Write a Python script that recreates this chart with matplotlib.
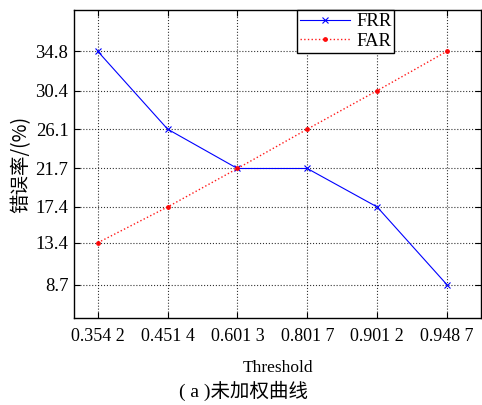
import matplotlib.pyplot as plt

thresholds = ['0.354 2', '0.451 4', '0.601 3', '0.801 7', '0.901 2', '0.948 7']
frr = [34.8, 26.1, 21.7, 21.7, 17.4, 8.7]
far = [13.4, 17.4, 21.7, 26.1, 30.4, 34.8]
yticks = [8.7, 13.4, 17.4, 21.7, 26.1, 30.4, 34.8]

serif = ['Liberation Serif', 'DejaVu Serif']
cjk = ['Noto Sans CJK SC', 'DejaVu Sans']

fig = plt.figure(figsize=(4.82, 4.05), dpi=100)
ax = fig.add_axes([0.1535, 0.215, 0.845, 0.76])

x = list(range(1, len(thresholds) + 1))
ax.plot(x, frr, color='blue', lw=0.8, marker='x', ms=4, mew=0.8, label='FRR')
ax.plot(x, far, color='red', lw=1.0, ls=':', marker='.', ms=5, alpha=0.9, label='FAR')

ax.set_xlim(0.66, 6.49)
ax.set_ylim(5.0, 39.4)
ax.set_xticks(x)
ax.set_xticklabels(thresholds, fontfamily=serif, fontsize=13)
ax.set_yticks(yticks)
ax.set_yticklabels([str(v) for v in yticks], fontfamily=serif, fontsize=13.5)
ax.tick_params(direction='in', length=4, top=True, right=True)
ax.tick_params(axis='x', pad=7)
ax.tick_params(axis='y', pad=4)
ax.grid(True, color='black', ls=':', lw=0.8, alpha=0.8)
for s in ax.spines.values():
    s.set_linewidth(1.0)

ax.set_ylabel('错误率/(%)', fontfamily=cjk, fontsize=14, labelpad=3)
ax.set_xlabel('Threshold', fontfamily=serif, fontsize=12.5, labelpad=11)

leg = ax.legend(loc='upper center', bbox_to_anchor=(0.667, 1.0), prop={'family': serif, 'size': 13.5},
                fancybox=False, edgecolor='black', framealpha=1, borderaxespad=0,
                handlelength=2.7, borderpad=0.15, labelspacing=0.15, handletextpad=0.3)
leg.get_frame().set_linewidth(1.0)

# caption: serif "(a)" then CJK title
fig.text(0.505, 0.02, '( a )未加权曲线', family=['Liberation Serif', 'Noto Sans CJK SC'], fontsize=14, ha='center')

fig.savefig('out.png', dpi=100)
